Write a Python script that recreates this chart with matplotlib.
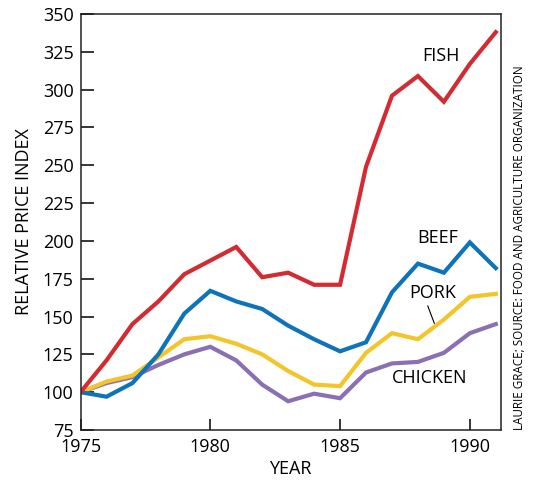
import matplotlib.pyplot as plt

plt.rcParams['font.family'] = ['Open Sans', 'DejaVu Sans']

# Relative price index, 1975 = 100
years = list(range(1975, 1992))
fish = [100, 121, 145, 160, 178, 187, 196, 176, 179, 171, 171, 249, 296, 309, 292, 317, 338]
beef = [100, 97, 106, 125, 152, 167, 160, 155, 144, 135, 127, 133, 166, 185, 179, 199, 182]
pork = [100, 107, 111, 123, 135, 137, 132, 125, 114, 105, 104, 126, 139, 135, 148, 163, 165]
chicken = [100, 106, 110, 118, 125, 130, 121, 105, 94, 99, 96, 113, 119, 120, 126, 139, 145]

series = [
    (fish, '#d42a32'),
    (beef, '#0e73b9'),
    (pork, '#f4c52a'),
    (chicken, '#8a70b2'),
]

fig = plt.figure(figsize=(5.35, 4.84), dpi=100)
ax = fig.add_axes([0.1505, 0.1116, 0.7859, 0.8594])

for vals, col in series[::-1]:
    ax.plot(years, vals, color=col, linewidth=3.0, solid_joinstyle='miter')

ax.set_xlim(1975, 1991.2)
ax.set_ylim(75, 350)
ax.set_xticks([1975, 1980, 1985, 1990])
ax.set_yticks(range(75, 351, 25))
ax.tick_params(axis='y', direction='in', length=9, width=1.1, pad=5, labelsize=13)
ax.tick_params(axis='x', direction='in', length=8, width=1.1, pad=6, labelsize=13)
for s in ax.spines.values():
    s.set_linewidth(1.1)
    s.set_color('#222222')

ax.set_ylabel('RELATIVE PRICE INDEX', fontsize=13)
ax.yaxis.set_label_coords(-0.113, 0.5)
ax.set_xlabel('YEAR', fontsize=13)
ax.xaxis.set_label_coords(0.5, -0.072)

# series labels
ax.text(1988.9, 322, 'FISH', fontsize=13, ha='center', va='center')
ax.text(1988.76, 202, 'BEEF', fontsize=13, ha='center', va='center')
ax.text(1988.57, 165.4, 'PORK', fontsize=13, ha='center', va='center')
ax.text(1988.44, 109.2, 'CHICKEN', fontsize=13, ha='center', va='center')
ax.plot([1988.38, 1988.63], [157, 145.6], color='black', linewidth=0.8)

ax.text(1.045, 0.0, 'LAURIE GRACE; SOURCE: FOOD AND AGRICULTURE ORGANIZATION',
        transform=ax.transAxes, rotation=90, fontsize=8.4, ha='center', va='bottom')

fig.savefig('out.png', dpi=100)
